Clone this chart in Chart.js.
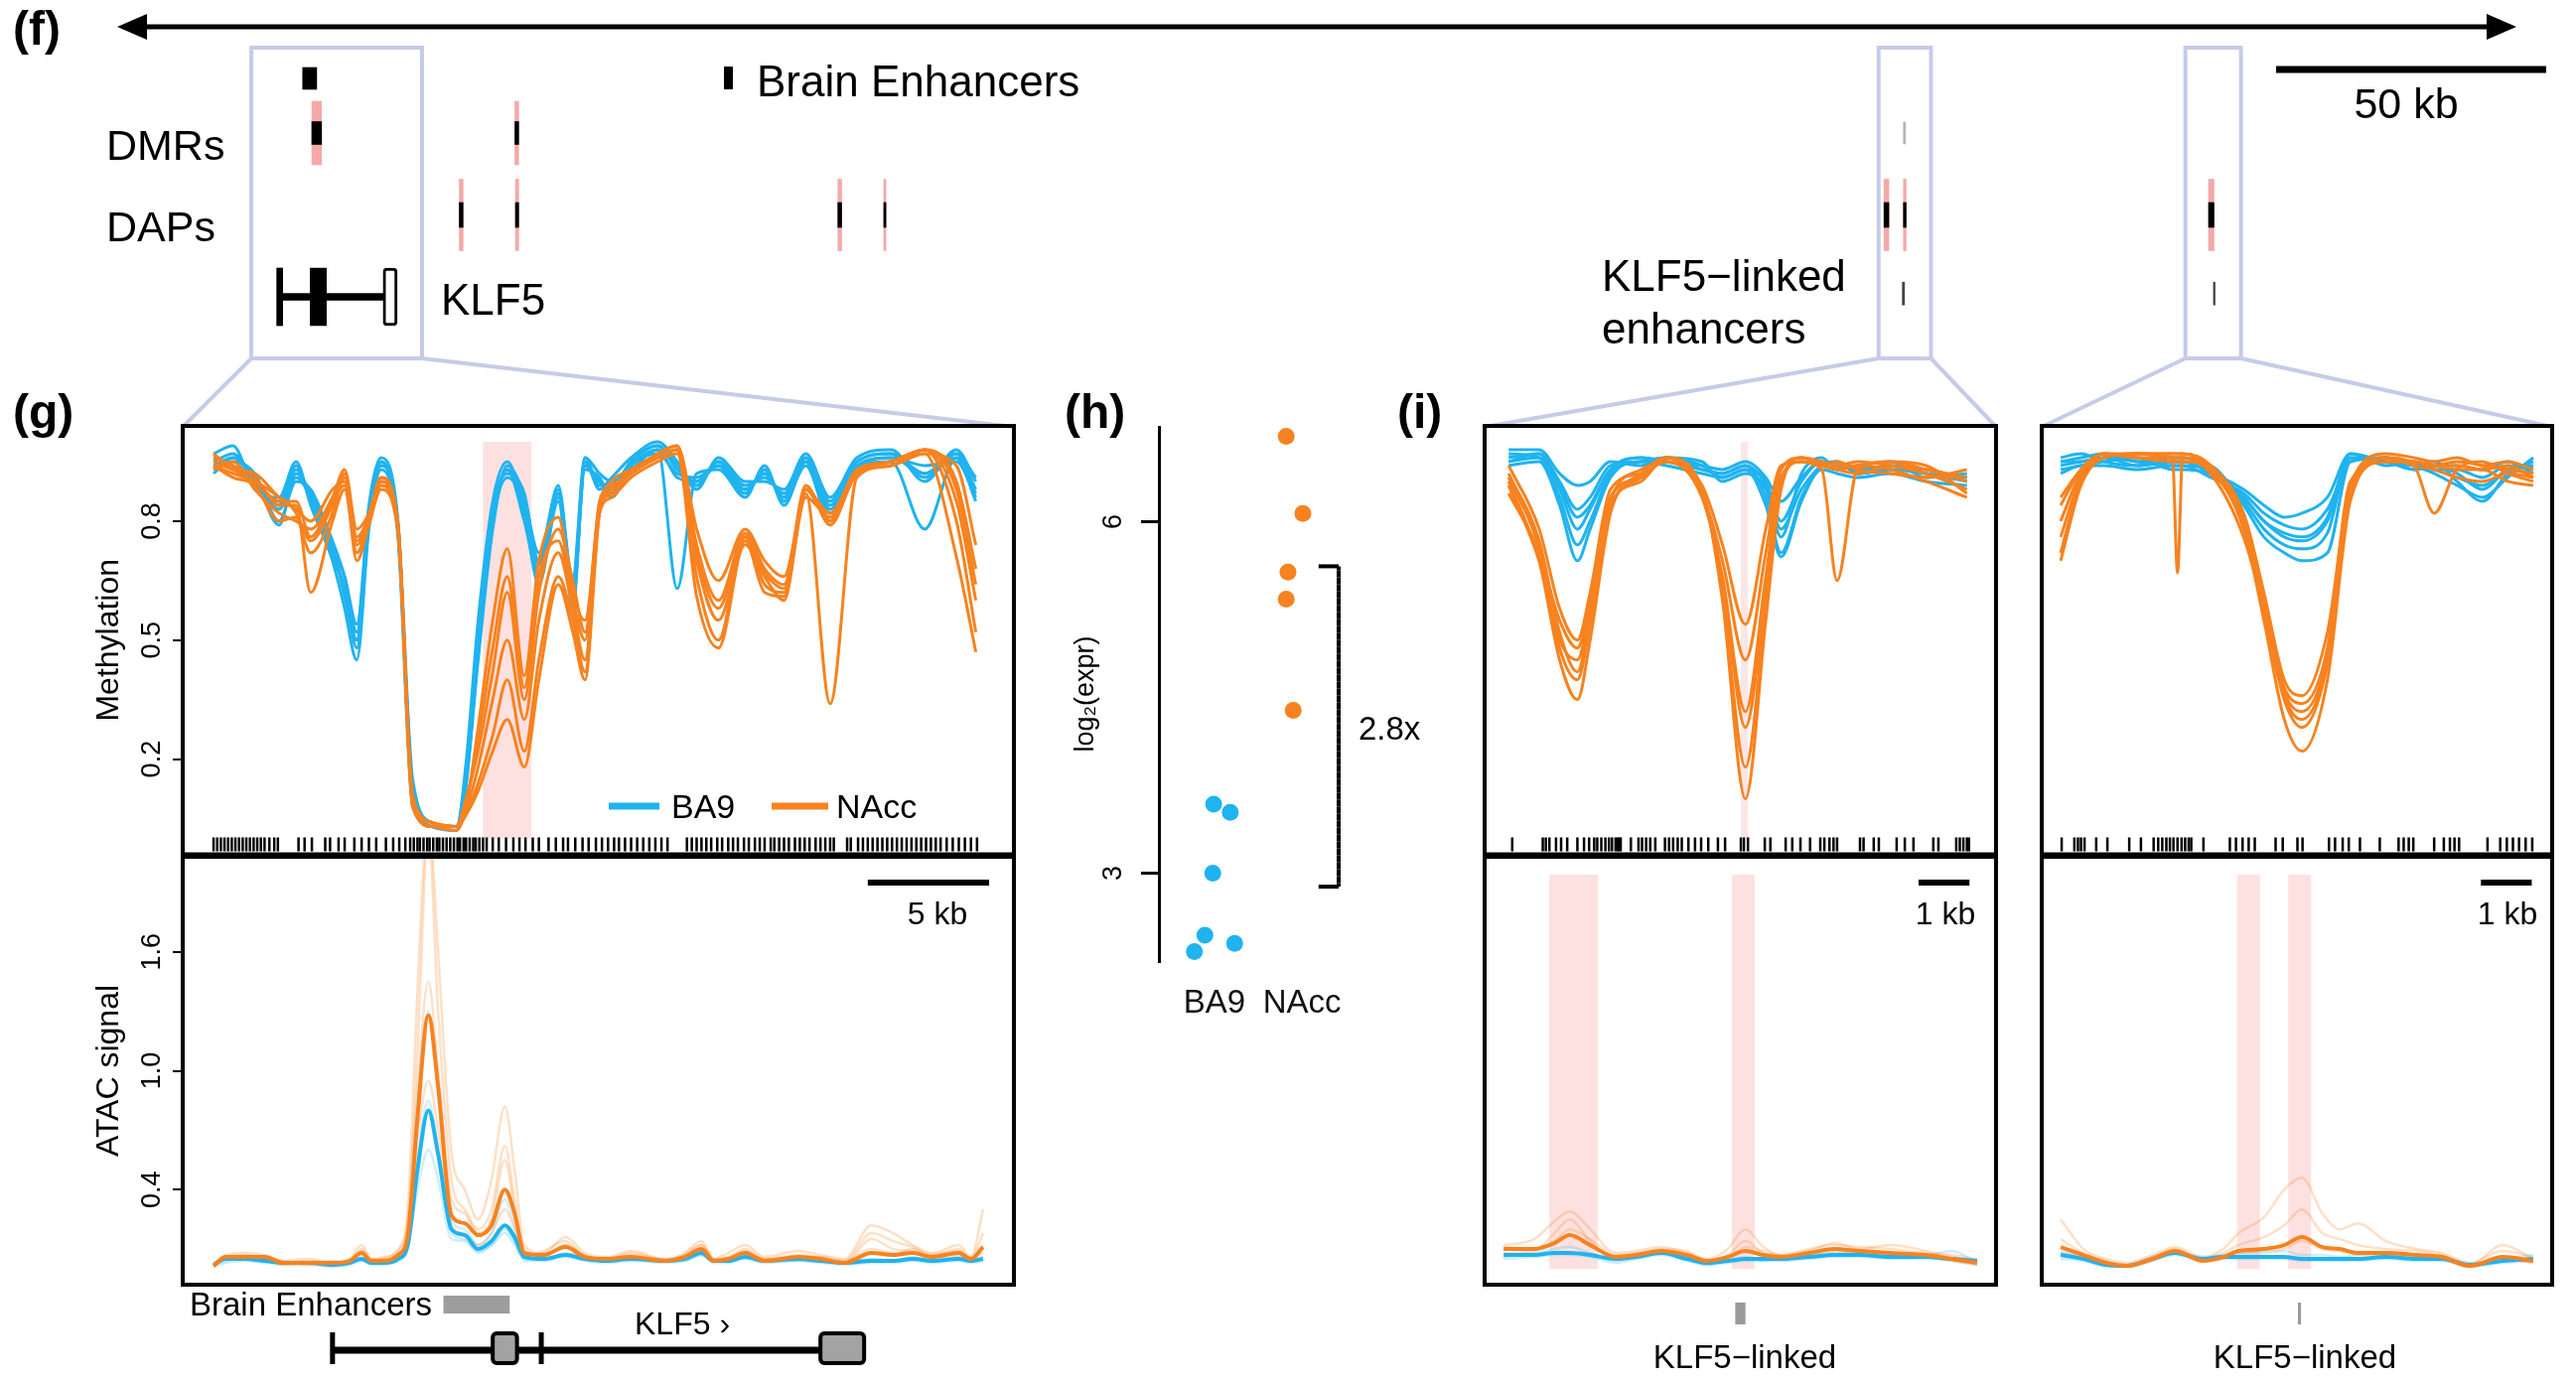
<!DOCTYPE html>
<html>
<head>
<meta charset="utf-8">
<title>KLF5 locus</title>
<script src="https://cdn.jsdelivr.net/npm/chart.js@4.4.1/dist/chart.umd.min.js"></script>
<style>
  html, body { margin: 0; padding: 0; background: #fff; }
  body { position: relative; width: 2594px; height: 1390px; overflow: hidden;
         font-family: "Liberation Sans", Arial, sans-serif; }
  canvas { position: absolute; }
  .lbl { position: absolute; white-space: nowrap; line-height: 1; color: #000; }
</style>
</head>
<body>
<script>
// ---------- (f) overview of the locus, kb ----------
const locusKb = [0, 447];
const brainEnhKb = [[37.1, 39.7]];
const dmrKb = [[38.8, 40.6], [76.4, 77.1]];
const dmrWeakKb = [[333.5, 333.9]];
const dapKb = [[66.1, 66.8], [76.5, 77.1], [136.2, 136.9], [144.7, 145.1], [329.9, 330.8], [333.5, 334.0], [390.0, 391.0]];
const linkedKb = [[333.3, 333.7], [390.9, 391.2]];
const klf5SpanKb = [32.8, 53.0];
const klf5BlackExonsKb = [[32.3, 33.4], [38.5, 41.5]];
const klf5OpenExonKb = [[52.0, 54.6]];
const zoomBoxesKb = [[27.6, 59.2], [328.9, 338.6], [385.7, 396.0]];
const scaleBarF = [402.5, 50];

// ---------- (g) KLF5 promoter region ----------
const gRangeKb = [-1.27, 32.97];
const gMethX = [0, 0.8, 1.7, 2.7, 3.4, 4.0, 4.9, 5.4, 5.9, 6.4, 6.9, 7.6, 8.2, 9.0, 10.0, 10.4, 10.9, 11.5, 12.1, 12.8, 13.4, 14.2, 14.8, 15.3, 15.9, 16.4, 17.2, 18.3, 19.1, 19.9, 20.8, 21.9, 22.7, 23.5, 24.4, 25.4, 26.5, 27.9, 29.3, 30.6, 31.4];
const gMethBA9 = [
  [0.95,0.97,0.90,0.84,0.93,0.86,0.72,0.63,0.48,0.80,0.95,0.78,0.12,0.03,0.03,0.17,0.50,0.82,0.93,0.84,0.67,0.87,0.60,0.94,0.90,0.88,0.95,0.99,0.93,0.90,0.95,0.88,0.92,0.86,0.96,0.84,0.95,0.97,0.92,0.97,0.88],
  [0.93,0.95,0.92,0.80,0.90,0.88,0.75,0.66,0.52,0.84,0.96,0.80,0.15,0.04,0.03,0.14,0.45,0.78,0.94,0.86,0.70,0.89,0.64,0.96,0.92,0.90,0.93,0.98,0.63,0.92,0.93,0.86,0.94,0.84,0.95,0.82,0.93,0.96,0.94,0.95,0.86],
  [0.97,0.99,0.88,0.86,0.95,0.84,0.70,0.58,0.45,0.78,0.93,0.76,0.08,0.03,0.02,0.19,0.55,0.85,0.95,0.82,0.64,0.85,0.58,0.95,0.88,0.91,0.96,1.00,0.95,0.88,0.96,0.90,0.90,0.88,0.97,0.86,0.96,0.98,0.90,0.98,0.90],
  [0.92,0.96,0.91,0.79,0.92,0.87,0.74,0.61,0.50,0.82,0.94,0.79,0.13,0.04,0.03,0.15,0.48,0.80,0.91,0.85,0.72,0.88,0.62,0.93,0.91,0.86,0.94,0.97,0.92,0.91,0.94,0.87,0.93,0.85,0.94,0.80,0.94,0.95,0.78,0.96,0.85],
  [0.96,0.94,0.89,0.85,0.94,0.85,0.73,0.66,0.54,0.83,0.95,0.77,0.11,0.03,0.02,0.16,0.52,0.83,0.92,0.87,0.69,0.86,0.66,0.96,0.89,0.89,0.95,0.99,0.94,0.89,0.95,0.89,0.91,0.87,0.96,0.85,0.95,0.97,0.91,0.97,0.91],
  [0.94,0.96,0.90,0.83,0.91,0.86,0.71,0.63,0.50,0.81,0.94,0.78,0.10,0.03,0.03,0.13,0.47,0.81,0.93,0.80,0.66,0.87,0.61,0.94,0.90,0.87,0.94,0.98,0.91,0.90,0.94,0.88,0.92,0.86,0.95,0.83,0.94,0.96,0.92,0.96,0.87]
];
const gMethNAcc = [
  [0.94,0.92,0.90,0.86,0.82,0.72,0.82,0.92,0.75,0.80,0.90,0.78,0.09,0.03,0.03,0.06,0.12,0.22,0.30,0.18,0.40,0.64,0.52,0.40,0.82,0.88,0.92,0.96,0.98,0.66,0.50,0.76,0.64,0.62,0.88,0.80,0.92,0.95,0.98,0.85,0.60],
  [0.96,0.94,0.91,0.84,0.84,0.62,0.80,0.88,0.72,0.80,0.89,0.78,0.10,0.04,0.03,0.08,0.28,0.55,0.73,0.41,0.70,0.81,0.62,0.55,0.84,0.90,0.93,0.97,0.99,0.78,0.65,0.78,0.70,0.66,0.87,0.34,0.91,0.94,0.97,0.94,0.74],
  [0.93,0.95,0.88,0.82,0.80,0.78,0.86,0.93,0.78,0.82,0.91,0.79,0.08,0.03,0.02,0.07,0.18,0.35,0.50,0.30,0.55,0.72,0.58,0.45,0.83,0.87,0.92,0.96,0.98,0.70,0.55,0.74,0.66,0.60,0.88,0.82,0.93,0.95,0.98,0.80,0.52],
  [0.95,0.93,0.92,0.86,0.83,0.80,0.88,0.90,0.70,0.79,0.88,0.77,0.11,0.04,0.03,0.10,0.22,0.42,0.62,0.35,0.62,0.78,0.65,0.52,0.85,0.89,0.92,0.97,0.99,0.74,0.60,0.77,0.68,0.64,0.89,0.79,0.92,0.94,0.98,0.90,0.68],
  [0.94,0.91,0.89,0.80,0.81,0.75,0.84,0.91,0.76,0.81,0.90,0.78,0.09,0.03,0.03,0.06,0.14,0.26,0.40,0.22,0.45,0.66,0.55,0.42,0.82,0.86,0.91,0.95,0.97,0.61,0.48,0.75,0.62,0.61,0.86,0.81,0.92,0.95,0.97,0.71,0.47],
  [0.97,0.93,0.90,0.85,0.85,0.76,0.85,0.89,0.74,0.80,0.91,0.79,0.10,0.03,0.03,0.09,0.25,0.48,0.66,0.38,0.66,0.75,0.60,0.50,0.84,0.88,0.93,0.96,0.98,0.72,0.58,0.76,0.67,0.63,0.88,0.80,0.92,0.94,0.98,0.88,0.64]
];
const gCpG = [0.0,0.15,0.3,0.45,0.6,0.75,0.9,1.05,1.2,1.35,1.5,1.65,1.8,1.95,2.1,2.3,2.5,2.65,
  3.5,3.75,4.05,4.6,4.8,5.15,5.4,5.8,6.1,6.4,6.7,7.1,7.4,7.65,7.9,8.1,8.25,8.4,8.5,8.65,8.8,8.9,9.05,9.2,9.3,9.45,9.6,9.75,9.9,10.05,10.15,10.3,10.4,10.55,10.7,10.8,10.95,11.1,11.25,11.5,11.75,12.05,12.35,12.6,12.85,13.15,13.4,13.8,14.1,14.4,14.6,14.9,15.2,15.45,15.75,16.0,16.25,16.5,16.7,16.95,17.2,17.45,17.7,17.95,18.2,18.45,18.7,
  19.5,19.7,19.9,20.1,20.3,20.5,20.75,20.95,21.2,21.4,21.6,21.85,22.05,22.3,22.5,22.7,22.95,23.1,23.3,23.5,23.7,23.95,24.15,24.35,24.55,24.8,25.0,25.2,25.4,25.55,
  26.1,26.25,26.55,26.75,26.95,27.15,27.35,27.55,27.75,27.95,28.15,28.35,28.55,28.75,28.95,29.15,29.35,29.55,29.75,29.95,30.2,30.45,30.7,30.95,31.2,31.45];
const gDmrBand = [[11.1, 13.1]];
const gMethTicks = [0.2, 0.5, 0.8];

const gAtacX = [0, 0.5, 1.3, 2.1, 2.9, 3.9, 4.9, 5.6, 6.1, 6.5, 7.0, 7.6, 8.0, 8.4, 8.85, 9.25, 9.8, 10.35, 10.9, 11.45, 12.0, 12.4, 12.8, 13.6, 14.5, 15.3, 16.2, 17.2, 18.6, 19.4, 20.1, 20.6, 21.2, 21.9, 22.7, 24.1, 25.0, 26.0, 27.1, 28.0, 28.8, 29.6, 30.7, 31.2, 31.7];
const gAtacNAccMean = [0.015,0.06,0.06,0.06,0.03,0.03,0.03,0.04,0.08,0.04,0.04,0.07,0.17,0.76,1.28,0.92,0.27,0.23,0.17,0.22,0.40,0.28,0.08,0.07,0.11,0.06,0.05,0.06,0.04,0.06,0.10,0.04,0.05,0.08,0.04,0.06,0.05,0.03,0.08,0.07,0.08,0.06,0.08,0.05,0.11];
const gAtacBA9Mean = [0.02,0.05,0.05,0.04,0.03,0.03,0.02,0.03,0.05,0.03,0.03,0.05,0.12,0.50,0.80,0.58,0.20,0.17,0.10,0.14,0.22,0.16,0.06,0.05,0.07,0.05,0.04,0.05,0.04,0.05,0.08,0.04,0.04,0.06,0.04,0.05,0.04,0.03,0.04,0.04,0.05,0.04,0.05,0.04,0.05];
const gAtacNAcc = [
  [0.02,0.07,0.08,0.07,0.04,0.05,0.03,0.05,0.12,0.05,0.06,0.10,0.30,1.40,2.30,1.60,0.59,0.40,0.25,0.45,0.82,0.50,0.12,0.08,0.16,0.08,0.06,0.09,0.05,0.08,0.14,0.05,0.08,0.12,0.06,0.09,0.07,0.05,0.22,0.18,0.12,0.08,0.12,0.06,0.30],
  [0.01,0.05,0.05,0.06,0.02,0.03,0.02,0.04,0.07,0.03,0.03,0.06,0.15,0.90,1.45,1.00,0.35,0.28,0.18,0.25,0.55,0.30,0.07,0.06,0.12,0.05,0.05,0.06,0.04,0.05,0.10,0.04,0.05,0.09,0.04,0.06,0.05,0.03,0.15,0.10,0.09,0.07,0.09,0.05,0.12],
  [0.03,0.06,0.05,0.05,0.04,0.02,0.04,0.03,0.09,0.04,0.05,0.08,0.14,0.65,0.95,0.70,0.22,0.18,0.12,0.18,0.30,0.20,0.06,0.09,0.14,0.06,0.04,0.07,0.05,0.07,0.12,0.05,0.04,0.07,0.05,0.05,0.06,0.04,0.10,0.08,0.10,0.06,0.07,0.04,0.08],
  [0.02,0.06,0.07,0.05,0.03,0.04,0.03,0.04,0.10,0.05,0.05,0.09,0.25,1.10,2.20,1.30,0.45,0.30,0.20,0.30,0.62,0.35,0.10,0.07,0.12,0.07,0.05,0.08,0.04,0.07,0.12,0.05,0.06,0.10,0.05,0.07,0.06,0.04,0.18,0.14,0.11,0.07,0.10,0.05,0.18]
];
const gAtacBA9 = [
  [0.02,0.04,0.06,0.05,0.03,0.03,0.02,0.03,0.05,0.03,0.03,0.05,0.16,0.85,1.30,0.90,0.25,0.20,0.12,0.18,0.35,0.22,0.06,0.05,0.08,0.05,0.04,0.05,0.04,0.05,0.09,0.04,0.04,0.06,0.04,0.05,0.04,0.03,0.05,0.04,0.06,0.04,0.06,0.04,0.06],
  [0.01,0.03,0.04,0.03,0.02,0.02,0.01,0.02,0.04,0.02,0.02,0.04,0.10,0.55,0.85,0.60,0.18,0.15,0.08,0.12,0.20,0.14,0.04,0.04,0.06,0.04,0.03,0.04,0.03,0.04,0.07,0.03,0.03,0.05,0.03,0.04,0.03,0.02,0.03,0.03,0.04,0.03,0.04,0.03,0.04],
  [0.03,0.05,0.05,0.04,0.03,0.03,0.03,0.03,0.05,0.03,0.04,0.05,0.12,0.40,0.60,0.45,0.15,0.14,0.09,0.12,0.18,0.12,0.05,0.05,0.07,0.05,0.04,0.05,0.04,0.04,0.07,0.04,0.04,0.06,0.04,0.04,0.04,0.03,0.04,0.04,0.05,0.04,0.05,0.04,0.05]
];
const gAtacTicks = [0.4, 1.0, 1.6];
const gEnhancerKb = [9.47, 12.2];
const gGeneKb = [4.9, 26.8];
const gExonsKb = [[11.5, 12.5], [25.0, 26.8]];
const gGeneTicksKb = [4.9, 13.5];

// ---------- (i) KLF5-linked enhancers ----------
const iRangeKb = [-0.372, 9.672];
const i1MethX = [0.1, 0.7, 1.1, 1.45, 1.7, 2.1, 2.7, 3.2, 3.9, 4.3, 4.75, 5.15, 5.45, 5.85, 6.25, 6.55, 6.95, 7.6, 8.3, 9.1];
const i1MethBA9 = [
  [0.96,0.97,0.90,0.83,0.86,0.94,0.95,0.96,0.94,0.91,0.93,0.90,0.80,0.90,0.95,0.94,0.93,0.94,0.92,0.91],
  [0.95,0.96,0.86,0.74,0.80,0.92,0.96,0.95,0.93,0.92,0.94,0.86,0.72,0.86,0.94,0.95,0.92,0.93,0.93,0.90],
  [0.98,0.98,0.92,0.89,0.90,0.95,0.94,0.96,0.95,0.90,0.92,0.88,0.76,0.92,0.96,0.93,0.94,0.95,0.91,0.92],
  [0.94,0.95,0.84,0.70,0.78,0.91,0.95,0.94,0.92,0.91,0.93,0.84,0.71,0.85,0.93,0.92,0.91,0.92,0.90,0.89],
  [0.97,0.96,0.88,0.78,0.83,0.93,0.96,0.95,0.94,0.93,0.95,0.91,0.85,0.91,0.95,0.94,0.93,0.94,0.92,0.90],
  [0.95,0.97,0.89,0.81,0.84,0.93,0.95,0.96,0.93,0.92,0.94,0.89,0.78,0.88,0.94,0.95,0.92,0.93,0.92,0.91]
];
const i1MethNAcc = [
  [0.90,0.70,0.45,0.35,0.50,0.82,0.92,0.96,0.88,0.60,0.10,0.55,0.88,0.96,0.95,0.94,0.95,0.94,0.92,0.88],
  [0.92,0.75,0.52,0.42,0.56,0.85,0.93,0.95,0.86,0.65,0.28,0.62,0.90,0.95,0.93,0.65,0.93,0.95,0.93,0.90],
  [0.87,0.72,0.55,0.48,0.60,0.86,0.91,0.96,0.87,0.70,0.45,0.72,0.93,0.96,0.94,0.93,0.94,0.95,0.94,0.87],
  [0.94,0.78,0.58,0.50,0.62,0.88,0.92,0.95,0.89,0.74,0.54,0.78,0.94,0.95,0.94,0.95,0.93,0.92,0.91,0.93],
  [0.91,0.73,0.48,0.40,0.54,0.84,0.90,0.96,0.88,0.62,0.18,0.58,0.89,0.96,0.95,0.94,0.94,0.93,0.90,0.86],
  [0.89,0.70,0.50,0.45,0.58,0.83,0.91,0.95,0.86,0.66,0.32,0.66,0.91,0.95,0.94,0.93,0.92,0.94,0.93,0.91]
];
const i1CpG = [0.17,0.77,0.83,0.90,1.03,1.13,1.25,1.45,1.58,1.68,1.78,1.84,1.92,2.0,2.07,2.13,2.2,2.24,2.27,2.3,2.5,2.65,2.72,2.8,2.88,2.98,3.17,3.25,3.33,3.42,3.5,3.63,3.76,3.88,4.02,4.21,4.35,4.66,4.72,4.8,5.13,5.24,5.54,5.67,5.83,6.02,6.22,6.3,6.4,6.48,6.55,7.0,7.07,7.27,7.37,7.72,7.88,8.05,8.44,8.54,8.89,8.96,9.03,9.1,9.14];
const i1MethBand = [[4.66, 4.80]];
const i1AtacX = [0, 0.6, 1.0, 1.3, 1.7, 2.2, 2.6, 3.1, 3.6, 4.0, 4.4, 4.75, 5.1, 5.45, 6.0, 6.5, 7.0, 7.6, 8.3, 8.8, 9.3];
const i1AtacNAccMean = [0.10,0.10,0.13,0.17,0.12,0.06,0.07,0.09,0.07,0.04,0.06,0.09,0.07,0.06,0.08,0.10,0.09,0.08,0.07,0.05,0.03];
const i1AtacBA9Mean = [0.07,0.07,0.08,0.08,0.07,0.05,0.06,0.08,0.05,0.03,0.04,0.05,0.05,0.05,0.06,0.07,0.07,0.06,0.06,0.05,0.04];
const i1AtacNAcc = [
  [0.12,0.15,0.24,0.29,0.20,0.08,0.09,0.11,0.08,0.05,0.10,0.20,0.11,0.07,0.09,0.13,0.10,0.12,0.09,0.06,0.04],
  [0.08,0.09,0.18,0.25,0.14,0.05,0.06,0.08,0.06,0.03,0.07,0.14,0.08,0.05,0.07,0.09,0.08,0.07,0.06,0.04,0.02],
  [0.11,0.10,0.14,0.20,0.15,0.07,0.08,0.10,0.09,0.04,0.05,0.11,0.09,0.07,0.10,0.12,0.11,0.10,0.08,0.07,0.05]
];
const i1AtacBA9 = [
  [0.06,0.08,0.10,0.11,0.08,0.04,0.07,0.09,0.06,0.02,0.04,0.06,0.04,0.06,0.07,0.08,0.09,0.07,0.07,0.09,0.03],
  [0.05,0.06,0.07,0.07,0.06,0.03,0.05,0.07,0.04,0.02,0.03,0.04,0.04,0.04,0.05,0.06,0.06,0.05,0.05,0.04,0.02]
];
const i1AtacBands = [[0.90, 1.85], [4.48, 4.93]];
const i1LinkedKb = [4.55, 4.75];

const i2MethX = [0.0, 0.4, 0.85, 1.5, 2.2, 2.3, 2.4, 2.95, 3.6, 4.0, 4.4, 4.75, 5.25, 5.7, 6.4, 6.95, 7.35, 7.8, 8.3, 8.8, 9.3];
const i2MethBA9 = [
  [0.94,0.95,0.96,0.95,0.94,0.94,0.94,0.93,0.86,0.80,0.76,0.75,0.80,0.96,0.95,0.93,0.94,0.92,0.88,0.93,0.94],
  [0.96,0.97,0.95,0.94,0.95,0.95,0.95,0.94,0.84,0.76,0.72,0.70,0.72,0.95,0.96,0.94,0.95,0.90,0.85,0.92,0.95],
  [0.93,0.94,0.95,0.96,0.93,0.93,0.93,0.92,0.88,0.84,0.81,0.82,0.86,0.97,0.94,0.95,0.93,0.93,0.91,0.94,0.93],
  [0.95,0.96,0.97,0.95,0.96,0.96,0.96,0.93,0.85,0.78,0.74,0.73,0.77,0.96,0.95,0.94,0.92,0.89,0.86,0.91,0.96],
  [0.92,0.94,0.94,0.93,0.94,0.94,0.94,0.91,0.87,0.82,0.79,0.78,0.83,0.95,0.96,0.93,0.94,0.94,0.93,0.95,0.92],
  [0.95,0.95,0.96,0.94,0.95,0.95,0.95,0.92,0.86,0.80,0.77,0.76,0.81,0.97,0.95,0.94,0.93,0.91,0.89,0.93,0.94]
];
const i2MethNAcc = [
  [0.72,0.90,0.97,0.97,0.96,0.67,0.96,0.93,0.78,0.55,0.30,0.22,0.40,0.85,0.96,0.95,0.94,0.95,0.94,0.93,0.92],
  [0.80,0.92,0.96,0.97,0.97,0.97,0.97,0.94,0.80,0.60,0.36,0.30,0.45,0.88,0.96,0.94,0.82,0.93,0.95,0.92,0.90],
  [0.86,0.93,0.97,0.96,0.96,0.96,0.96,0.92,0.76,0.58,0.38,0.34,0.48,0.90,0.95,0.95,0.94,0.94,0.93,0.94,0.91],
  [0.76,0.91,0.96,0.97,0.97,0.97,0.97,0.94,0.82,0.62,0.40,0.36,0.52,0.89,0.97,0.96,0.95,0.96,0.94,0.95,0.93],
  [0.84,0.93,0.97,0.96,0.95,0.95,0.95,0.93,0.79,0.57,0.35,0.28,0.44,0.86,0.96,0.94,0.93,0.91,0.90,0.92,0.91],
  [0.70,0.89,0.96,0.97,0.96,0.96,0.96,0.94,0.81,0.60,0.37,0.32,0.46,0.87,0.95,0.95,0.94,0.93,0.93,0.90,0.89]
];
const i2CpG = [0.02,0.27,0.34,0.4,0.47,0.7,0.92,1.35,1.58,1.83,1.92,2.0,2.08,2.15,2.22,2.3,2.38,2.45,2.52,2.57,2.81,3.33,3.45,3.58,3.7,3.82,4.23,4.37,4.66,4.76,5.28,5.4,5.55,5.67,5.89,6.28,6.65,6.75,6.85,6.94,7.35,7.54,7.66,7.75,7.84,8.4,8.65,8.78,8.9,9.02,9.15,9.28];
const i2AtacX = [0, 0.45, 0.9, 1.3, 1.8, 2.25, 2.8, 3.2, 3.5, 4.0, 4.4, 4.75, 5.15, 5.5, 5.85, 6.4, 7.0, 7.5, 8.05, 8.7, 9.3];
const i2AtacNAccMean = [0.11,0.07,0.03,0.015,0.05,0.09,0.04,0.06,0.09,0.10,0.12,0.16,0.11,0.10,0.08,0.08,0.07,0.06,0.015,0.06,0.04];
const i2AtacBA9Mean = [0.07,0.05,0.02,0.015,0.05,0.08,0.05,0.06,0.06,0.06,0.06,0.05,0.05,0.05,0.05,0.06,0.05,0.05,0.02,0.04,0.05];
const i2AtacNAcc = [
  [0.25,0.10,0.05,0.03,0.07,0.11,0.06,0.10,0.18,0.26,0.40,0.46,0.28,0.20,0.23,0.14,0.10,0.08,0.03,0.09,0.06],
  [0.15,0.08,0.04,0.02,0.06,0.10,0.05,0.08,0.12,0.16,0.22,0.30,0.18,0.15,0.12,0.10,0.09,0.07,0.02,0.12,0.05],
  [0.08,0.06,0.02,0.01,0.04,0.08,0.04,0.05,0.08,0.09,0.10,0.14,0.10,0.09,0.07,0.07,0.06,0.05,0.01,0.05,0.03]
];
const i2AtacBA9 = [
  [0.09,0.06,0.03,0.02,0.06,0.09,0.06,0.07,0.08,0.08,0.09,0.07,0.07,0.06,0.07,0.08,0.06,0.06,0.03,0.05,0.07],
  [0.05,0.04,0.01,0.01,0.04,0.07,0.04,0.05,0.05,0.05,0.05,0.04,0.04,0.04,0.04,0.05,0.04,0.04,0.01,0.03,0.04]
];
const i2AtacBands = [[3.47, 3.92], [4.48, 4.93]];
const i2LinkedKb = [4.67, 4.73];

// ---------- (h) expression ----------
const hGroups = ['BA9', 'NAcc'];
const hBA9Jitter = [0.99, 1.18, 0.98, 0.89, 1.23, 0.77];
const hBA9Expr = [3.59, 3.52, 3.00, 2.47, 2.40, 2.33];
const hNAccJitter = [1.82, 2.01, 1.84, 1.82, 1.90];
const hNAccExpr = [6.73, 6.07, 5.57, 5.34, 4.39];
const hTicks = [3, 6];

// ---------- styling ----------
Chart.defaults.animation = false;
Chart.defaults.font.family = '"Liberation Sans", Arial, sans-serif';
Chart.defaults.color = '#000';

const BLUE = '#1fb3ef', ORANGE = '#f7821f';
const BLUE_F = 'rgba(31,179,239,0.22)', ORANGE_F = 'rgba(247,130,31,0.25)';
const LAV = '#c6cbe9', PINK = '#f4a9a9', PINK_BAND = '#fde1e1';
const methY = [-0.04, 1.04], atacY = [-0.08, 2.08];

function mkCanvas(left, top, w, h) {
  const c = document.createElement('canvas');
  c.width = w; c.height = h;
  c.style.left = left + 'px'; c.style.top = top + 'px';
  c.style.width = w + 'px'; c.style.height = h + 'px';
  document.body.appendChild(c);
  return c;
}

function lab(text, x, y, size, o = {}) {
  const d = document.createElement('div');
  d.className = 'lbl';
  d.textContent = text;
  d.style.left = x + 'px';
  d.style.top = y + 'px';
  d.style.fontSize = size + 'px';
  if (o.bold) d.style.fontWeight = 'bold';
  const tx = o.align === 'center' ? '-50%' : '0';
  d.style.transform = 'translate(' + tx + ', -49%)';
  document.body.appendChild(d);
}

const toXY = (xs, ys) => xs.map((x, i) => ({x: x, y: ys[i]}));
function lineSet(xs, ys, color, w) {
  return {type: 'line', data: toXY(xs, ys), borderColor: color, borderWidth: w,
          pointRadius: 0, fill: false, cubicInterpolationMode: 'monotone'};
}
function rugSet(xs, yv) {
  return {type: 'scatter', data: xs.map(x => ({x: x, y: yv})), showLine: false,
          pointStyle: 'line', pointRotation: 90, pointRadius: 7,
          pointBorderWidth: 2.5, pointBorderColor: '#000', pointBackgroundColor: '#000'};
}
function seg(ctx, x0, y0, x1, y1) {
  ctx.beginPath(); ctx.moveTo(x0, y0); ctx.lineTo(x1, y1); ctx.stroke();
}

// bands, frame, rotated tick labels, scale bar
function panelDecor(cfg) {
  return {
    id: 'panelDecor',
    beforeDatasetsDraw(chart) {
      if (!cfg.bands) return;
      const {ctx, scales: {x, y}} = chart;
      ctx.save();
      ctx.fillStyle = cfg.bandColor;
      const yt = y.getPixelForValue(cfg.bandY[1]), yb = y.getPixelForValue(cfg.bandY[0]);
      cfg.bands.forEach(b => {
        const x0 = x.getPixelForValue(b[0]), x1 = x.getPixelForValue(b[1]);
        ctx.fillRect(x0, yt, x1 - x0, yb - yt);
      });
      ctx.restore();
    },
    afterDraw(chart) {
      const {ctx, chartArea: a, scales: {x, y}} = chart;
      ctx.save();
      if (cfg.frame !== false) {
        ctx.strokeStyle = '#000'; ctx.lineWidth = 4;
        ctx.strokeRect(a.left, a.top, a.right - a.left, a.bottom - a.top);
      }
      if (cfg.yLabels) {
        const L = cfg.yLabels;
        ctx.fillStyle = '#000';
        ctx.font = L.size + 'px "Liberation Sans", Arial, sans-serif';
        ctx.textAlign = 'center'; ctx.textBaseline = 'middle';
        L.values.forEach(v => {
          ctx.save();
          ctx.translate(L.x, y.getPixelForValue(v));
          ctx.rotate(-Math.PI / 2);
          ctx.fillText(L.digits ? v.toFixed(L.digits) : String(v), 0, 0);
          ctx.restore();
        });
      }
      if (cfg.scaleBar) {
        const S = cfg.scaleBar;
        ctx.strokeStyle = '#000'; ctx.lineWidth = 6;
        seg(ctx, x.getPixelForValue(S.kb), S.y, x.getPixelForValue(S.kb + S.len), S.y);
      }
      if (cfg.extra) cfg.extra(chart, ctx);
      ctx.restore();
    }
  };
}

function panelOptions(o) {
  const y = {type: 'linear', min: o.y[0], max: o.y[1], bounds: 'data'};
  if (o.axis) {
    Object.assign(y, {
      display: true,
      afterBuildTicks: s => { s.ticks = o.axis.ticks.map(v => ({value: v})); },
      afterFit: s => { s.width = o.axis.w; },
      ticks: {display: false},
      grid: {drawOnChartArea: false, drawTicks: true, tickLength: 10, color: '#000', lineWidth: 2},
      border: {display: false},
      title: {display: true, text: o.axis.title, color: '#000', font: {size: 32}, padding: {top: 91, bottom: 0}}
    });
  } else {
    y.display = false;
  }
  return {
    responsive: false, animation: false, events: [],
    layout: {padding: o.pad},
    scales: {x: {type: 'linear', min: o.x[0], max: o.x[1], bounds: 'data', display: false}, y: y},
    plugins: {legend: {display: false}, tooltip: {enabled: false}}
  };
}

// ---------- (f) overview ----------
// Chart.js paints the first dataset last, so marks that sit on top come first
const ROW = {enh: 0, dmr: 1, dap: 2.5, gene: 4};
const rowRange = [-1.436, 6.418];
function trackBars(ranges, row, color, thick, more) {
  return Object.assign({
    data: ranges.map(r => ({x: r, y: row})), backgroundColor: color,
    barThickness: thick, grouped: false, borderWidth: 0, borderSkipped: false
  }, more || {});
}
const zoomTargets = [[184, 1021], [1495, 2010], [2056, 2570]];
const overviewDecor = {
  id: 'overviewDecor',
  beforeDatasetsDraw(chart) {
    const {ctx, scales: {x}} = chart;
    ctx.save();
    ctx.strokeStyle = LAV; ctx.lineWidth = 4;
    zoomBoxesKb.forEach((b, i) => {
      const x0 = x.getPixelForValue(b[0]), x1 = x.getPixelForValue(b[1]);
      ctx.strokeRect(x0, 48, x1 - x0, 313);
      seg(ctx, x0, 361, zoomTargets[i][0], 430);
      seg(ctx, x1, 361, zoomTargets[i][1], 430);
    });
    ctx.restore();
  },
  afterDraw(chart) {
    const {ctx, scales: {x}} = chart;
    ctx.save();
    ctx.strokeStyle = '#000'; ctx.fillStyle = '#000'; ctx.lineWidth = 5;
    seg(ctx, 140, 27, 2512, 27);
    ctx.beginPath(); ctx.moveTo(118, 27); ctx.lineTo(148, 14); ctx.lineTo(148, 40); ctx.closePath(); ctx.fill();
    ctx.beginPath(); ctx.moveTo(2534, 27); ctx.lineTo(2504, 14); ctx.lineTo(2504, 40); ctx.closePath(); ctx.fill();
    ctx.lineWidth = 7;
    seg(ctx, x.getPixelForValue(scaleBarF[0]), 70, x.getPixelForValue(scaleBarF[0] + scaleBarF[1]), 70);
    ctx.fillRect(729, 67, 9, 23);
    ctx.restore();
  }
};

new Chart(mkCanvas(0, 0, 2594, 432), {
  type: 'bar',
  data: {datasets: [
    trackBars(klf5OpenExonKb, ROW.gene, '#fff', 58, {borderWidth: 3, borderColor: '#000', borderRadius: 4}),
    trackBars(klf5BlackExonsKb, ROW.gene, '#000', 58),
    trackBars([klf5SpanKb], ROW.gene, '#000', 7),
    trackBars(linkedKb, ROW.gene - 0.06, '#444', 23),
    trackBars(brainEnhKb, ROW.enh, '#000', 22),
    trackBars(dapKb, ROW.dap, '#000', 25),
    trackBars(dmrWeakKb, ROW.dmr, '#b5b5b5', 22),
    trackBars(dmrKb, ROW.dmr, '#000', 23),
    trackBars(dapKb, ROW.dap, PINK, 72),
    trackBars(dmrKb, ROW.dmr, PINK, 64)
  ]},
  options: {
    indexAxis: 'y', responsive: false, animation: false, events: [],
    layout: {padding: {left: 103, right: 60, top: 0, bottom: 0}},
    scales: {
      x: {type: 'linear', min: locusKb[0], max: locusKb[1], bounds: 'data', display: false},
      y: {type: 'linear', min: rowRange[0], max: rowRange[1], reverse: true, offset: false, bounds: 'data', display: false}
    },
    plugins: {legend: {display: false}, tooltip: {enabled: false}}
  },
  plugins: [overviewDecor]
});

// ---------- (g) methylation ----------
new Chart(mkCanvas(0, 400, 1032, 470), {
  type: 'line',
  data: {datasets: [
    rugSet(gCpG, -0.015),
    ...gMethNAcc.map(v => lineSet(gMethX, v, ORANGE, 3)),
    ...gMethBA9.map(v => lineSet(gMethX, v, BLUE, 3))
  ]},
  options: panelOptions({pad: {left: 0, right: 11, top: 29, bottom: 7}, x: gRangeKb, y: methY,
                         axis: {w: 184, ticks: gMethTicks, title: 'Methylation'}}),
  plugins: [panelDecor({
    bands: gDmrBand, bandY: [0, 1], bandColor: PINK_BAND,
    yLabels: {values: gMethTicks, x: 154, size: 27, digits: 1},
    extra: (chart, ctx) => {
      ctx.lineWidth = 7;
      ctx.strokeStyle = BLUE; seg(ctx, 613, 412, 664, 412);
      ctx.strokeStyle = ORANGE; seg(ctx, 777, 412, 834, 412);
    }
  })]
});

// ---------- (g) ATAC ----------
new Chart(mkCanvas(0, 855, 1032, 535), {
  type: 'line',
  data: {datasets: [
    lineSet(gAtacX, gAtacNAccMean, ORANGE, 4),
    lineSet(gAtacX, gAtacBA9Mean, BLUE, 4),
    ...gAtacNAcc.map(v => lineSet(gAtacX, v, ORANGE_F, 2.5)),
    ...gAtacBA9.map(v => lineSet(gAtacX, v, BLUE_F, 2.5))
  ]},
  options: panelOptions({pad: {left: 0, right: 11, top: 8, bottom: 96}, x: gRangeKb, y: atacY,
                         axis: {w: 184, ticks: gAtacTicks, title: 'ATAC signal'}}),
  plugins: [panelDecor({
    yLabels: {values: gAtacTicks, x: 154, size: 27, digits: 1},
    scaleBar: {kb: 26.95, len: 5, y: 34},
    extra: (chart, ctx) => {
      const px = v => chart.scales.x.getPixelForValue(v);
      ctx.fillStyle = '#9d9d9d';
      ctx.fillRect(px(gEnhancerKb[0]), 450, px(gEnhancerKb[1]) - px(gEnhancerKb[0]), 18);
      ctx.strokeStyle = '#000'; ctx.lineWidth = 7;
      seg(ctx, px(gGeneKb[0]), 505, px(gGeneKb[1]), 505);
      ctx.lineWidth = 5;
      gGeneTicksKb.forEach(k => seg(ctx, px(k), 487, px(k), 519));
      ctx.fillStyle = '#a3a3a3'; ctx.lineWidth = 4;
      gExonsKb.forEach(e => {
        ctx.beginPath(); ctx.roundRect(px(e[0]), 488, px(e[1]) - px(e[0]), 30, 4);
        ctx.fill(); ctx.stroke();
      });
    }
  })]
});

// ---------- (i) two enhancer panels ----------
function enhancerPanels(left, width, padL, padR, methX, methBA9, methNAcc, cpg, methBand,
                        atacX, atacBA9, atacNAcc, ba9Mean, naccMean, atacBands, linked, barKb) {
  new Chart(mkCanvas(left, 400, width, 470), {
    type: 'line',
    data: {datasets: [
      rugSet(cpg, -0.015),
      ...methNAcc.map(v => lineSet(methX, v, ORANGE, 3)),
      ...methBA9.map(v => lineSet(methX, v, BLUE, 3))
    ]},
    options: panelOptions({pad: {left: padL, right: padR, top: 29, bottom: 7}, x: iRangeKb, y: methY}),
    plugins: [panelDecor({bands: methBand, bandY: [0, 1], bandColor: '#fbe6e6'})]
  });
  new Chart(mkCanvas(left, 855, width, 535), {
    type: 'line',
    data: {datasets: [
      lineSet(atacX, naccMean, ORANGE, 4),
      lineSet(atacX, ba9Mean, BLUE, 4),
      ...atacNAcc.map(v => lineSet(atacX, v, ORANGE_F, 2.5)),
      ...atacBA9.map(v => lineSet(atacX, v, BLUE_F, 2.5))
    ]},
    options: panelOptions({pad: {left: padL, right: padR, top: 8, bottom: 96}, x: iRangeKb, y: atacY}),
    plugins: [panelDecor({
      bands: atacBands, bandY: [0, 1.99], bandColor: PINK_BAND,
      scaleBar: {kb: barKb, len: 1, y: 34},
      extra: (chart, ctx) => {
        const x0 = chart.scales.x.getPixelForValue(linked[0]);
        const x1 = chart.scales.x.getPixelForValue(linked[1]);
        ctx.fillStyle = '#9a9a9a';
        ctx.fillRect(x0, 457, Math.max(3, x1 - x0), 22);
      }
    })]
  });
}
enhancerPanels(1480, 545, 15, 15, i1MethX, i1MethBA9, i1MethNAcc, i1CpG, i1MethBand,
               i1AtacX, i1AtacBA9, i1AtacNAcc, i1AtacBA9Mean, i1AtacNAccMean, i1AtacBands, i1LinkedKb, 8.15);
enhancerPanels(2040, 554, 16, 24, i2MethX, i2MethBA9, i2MethNAcc, i2CpG, null,
               i2AtacX, i2AtacBA9, i2AtacNAcc, i2AtacBA9Mean, i2AtacNAccMean, i2AtacBands, i2LinkedKb, 8.27);

// ---------- (h) expression dot plot ----------
const mean = a => a.reduce((s, v) => s + v, 0) / a.length;
const ba9Mean = mean(hBA9Expr), naccMean = mean(hNAccExpr);
new Chart(mkCanvas(1060, 380, 420, 700), {
  type: 'scatter',
  data: {datasets: [
    {data: toXY(hBA9Jitter, hBA9Expr), backgroundColor: BLUE, pointRadius: 8.5, borderWidth: 0},
    {data: toXY(hNAccJitter, hNAccExpr), backgroundColor: ORANGE, pointRadius: 8.5, borderWidth: 0},
    {type: 'line', data: [{x: 2.19, y: naccMean}, {x: 2.42, y: naccMean}, {x: 2.42, y: ba9Mean}, {x: 2.19, y: ba9Mean}],
     borderColor: '#000', borderWidth: 4, pointRadius: 0, fill: false,
     segment: {borderDash: c => c.p0DataIndex === 1 ? [4, 3] : undefined}}
  ]},
  options: {
    responsive: false, animation: false, events: [],
    layout: {padding: {left: 0, right: 80, top: 50, bottom: 0}},
    scales: {
      x: {type: 'linear', min: 0.364, max: 3.01, bounds: 'data',
          afterBuildTicks: s => { s.ticks = hGroups.map((g, i) => ({value: i + 1})); },
          afterFit: s => { s.height = 112; },
          grid: {display: false, drawTicks: false}, border: {display: false},
          ticks: {font: {size: 33}, color: '#111', padding: 23, maxRotation: 0, autoSkip: false,
                  callback: v => hGroups[v - 1]}},
      y: {type: 'linear', min: 2.25, max: 6.81, bounds: 'data',
          afterBuildTicks: s => { s.ticks = hTicks.map(v => ({value: v})); },
          afterFit: s => { s.width = 107; },
          ticks: {display: false},
          grid: {drawOnChartArea: false, drawTicks: true, tickLength: 18, color: '#000', lineWidth: 3},
          border: {display: true, color: '#000', width: 3},
          title: {display: true, text: 'log\u2082(expr)', color: '#000', font: {size: 27}, padding: {top: 17, bottom: 0}}}
    },
    plugins: {legend: {display: false}, tooltip: {enabled: false}}
  },
  plugins: [panelDecor({frame: false, yLabels: {values: hTicks, x: 62, size: 27}})]
});

// ---------- text ----------
lab('(f)', 13, 29, 48, {bold: true});
lab('(g)', 13, 415, 48, {bold: true});
lab('(h)', 1072, 415, 48, {bold: true});
lab('(i)', 1407, 415, 48, {bold: true});
lab('Brain Enhancers', 762, 82, 44);
lab('DMRs', 107, 146, 43);
lab('DAPs', 107, 228, 43);
lab('KLF5', 444, 302, 44);
lab('KLF5\u2212linked', 1613, 278, 44);
lab('enhancers', 1613, 331, 44);
lab('50 kb', 2423, 104, 43, {align: 'center'});
lab('BA9', 676, 812, 34);
lab('NAcc', 842, 812, 34);
lab('5 kb', 944, 920, 32, {align: 'center'});
lab('1 kb', 1959, 920, 32, {align: 'center'});
lab('1 kb', 2525, 920, 32, {align: 'center'});
lab('Brain Enhancers', 191, 1313, 33);
lab('KLF5 \u203A', 639, 1333, 32);
lab('2.8x', 1368, 733, 33);
lab('KLF5\u2212linked', 1757, 1366, 33, {align: 'center'});
lab('KLF5\u2212linked', 2321, 1366, 33, {align: 'center'});
</script>
</body>
</html>
